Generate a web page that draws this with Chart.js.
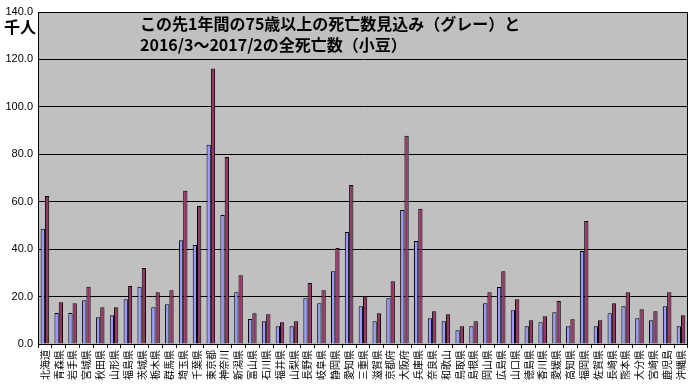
<!DOCTYPE html>
<html>
<head>
<meta charset="utf-8">
<script src="https://cdn.jsdelivr.net/npm/chart.js@4"></script>
<style>
  html, body { margin: 0; padding: 0; background: #fff; }
  #wrap { width: 695px; height: 392px; position: relative; }
</style>
</head>
<body>
<div id="wrap"><canvas id="chart"></canvas></div>
<script>
const prefs = ["北海道","青森県","岩手県","宮城県","秋田県","山形県","福島県","茨城県","栃木県","群馬県",
  "埼玉県","千葉県","東京都","神奈川","新潟県","富山県","石川県","福井県","山梨県","長野県",
  "岐阜県","静岡県","愛知県","三重県","滋賀県","京都府","大阪府","兵庫県","奈良県","和歌山",
  "鳥取県","島根県","岡山県","広島県","山口県","徳島県","香川県","愛媛県","高知県","福岡県",
  "佐賀県","長崎県","熊本県","大分県","宮崎県","鹿児島","沖縄県"];

// 75歳以上の死亡数見込み (千人)
const deaths75 = [48.6,13.1,13.1,18.5,11.3,12.1,18.9,24.1,15.5,16.8,
  43.8,41.7,84.0,54.4,21.8,10.5,9.6,7.5,7.5,19.3,
  17.2,30.7,47.2,15.9,9.6,19.3,56.5,43.4,10.9,9.6,
  5.8,7.5,17.2,24.0,14.2,7.5,9.2,13.4,7.5,39.2,
  7.5,13.0,15.9,10.9,10.0,15.9,7.5];

// 2016/3～2017/2 全死亡数 (千人)
const deathsAll = [62.4,17.6,17.2,24.1,15.5,15.5,24.5,32.0,21.8,22.7,
  64.6,58.2,116.2,78.9,29.0,13.0,12.5,9.2,9.6,25.7,
  22.7,40.5,67.1,20.2,13.0,26.5,87.8,57.0,13.8,12.5,
  7.5,9.6,21.8,30.7,18.9,10.0,11.7,18.1,10.4,51.9,
  10.0,17.2,21.8,14.7,13.8,21.8,12.1];

const yTicks = [0, 20, 40, 60, 80, 100, 120, 140];

const titleLines = ["この先1年間の75歳以上の死亡数見込み（グレー）と", "2016/3～2017/2の全死亡数（小豆）"];

const cjk = '"Noto Sans CJK JP", "Noto Sans", sans-serif';

// grey plot area + outer frame
const plotBg = {
  id: "plotBg",
  beforeDraw(chart) {
    const { ctx, chartArea: a } = chart;
    ctx.save();
    ctx.fillStyle = "#C0C0C0";
    ctx.fillRect(a.left, a.top, a.right - a.left, a.bottom - a.top);
    ctx.restore();
  },
  afterDraw(chart) {
    const { ctx, chartArea: a } = chart;
    ctx.save();
    ctx.strokeStyle = "#000";
    ctx.lineWidth = 1;
    ctx.strokeRect(Math.round(a.left) + 0.5, Math.round(a.top) + 0.5,
      Math.round(a.right - a.left) - 1, Math.round(a.bottom - a.top));
    // title text inside plot
    ctx.fillStyle = "#000";
    ctx.font = "bold 16px " + cjk;
    ctx.textBaseline = "middle";
    ctx.fillText(titleLines[0], 140, 24);
    ctx.fillText(titleLines[1], 140, 45);
    // unit label
    ctx.fillText("千人", 4, 27);
    ctx.restore();
  }
};

new Chart(document.getElementById("chart"), {
  type: "bar",
  data: {
    labels: prefs,
    datasets: [
      {
        label: "75歳以上の死亡数見込み",
        data: deaths75,
        backgroundColor: "#9999FF",
        borderColor: "#000",
        borderWidth: 1
      },
      {
        label: "全死亡数",
        data: deathsAll,
        backgroundColor: "#993366",
        borderColor: "#000",
        borderWidth: 1
      }
    ]
  },
  options: {
    responsive: true,
    maintainAspectRatio: false,
    animation: false,
    layout: { padding: { top: 12, right: 3, left: 0, bottom: 0 } },
    plugins: {
      legend: { display: false },
      tooltip: { enabled: false }
    },
    datasets: {
      bar: { categoryPercentage: 0.62, barPercentage: 1.0 }
    },
    scales: {
      x: {
        grid: { display: true, drawOnChartArea: false, color: "#000", tickLength: 4 },
        border: { color: "#000" },
        ticks: {
          autoSkip: false,
          minRotation: 90,
          maxRotation: 90,
          color: "#000",
          padding: 2,
          font: { family: cjk, size: 10 }
        },
        afterFit(scale) { scale.height = 48; }
      },
      y: {
        min: 0,
        max: 140,
        afterBuildTicks(scale) { scale.ticks = yTicks.map(v => ({ value: v })); },
        grid: { color: "#000", drawTicks: false },
        border: { color: "#000" },
        ticks: {
          color: "#000",
          padding: 5,
          font: { family: '"Liberation Sans", Arial, sans-serif', size: 11 },
          callback: v => Number(v).toFixed(1)
        },
        afterFit(scale) { scale.width = 38; }
      }
    }
  },
  plugins: [plotBg]
});
</script>
</body>
</html>
